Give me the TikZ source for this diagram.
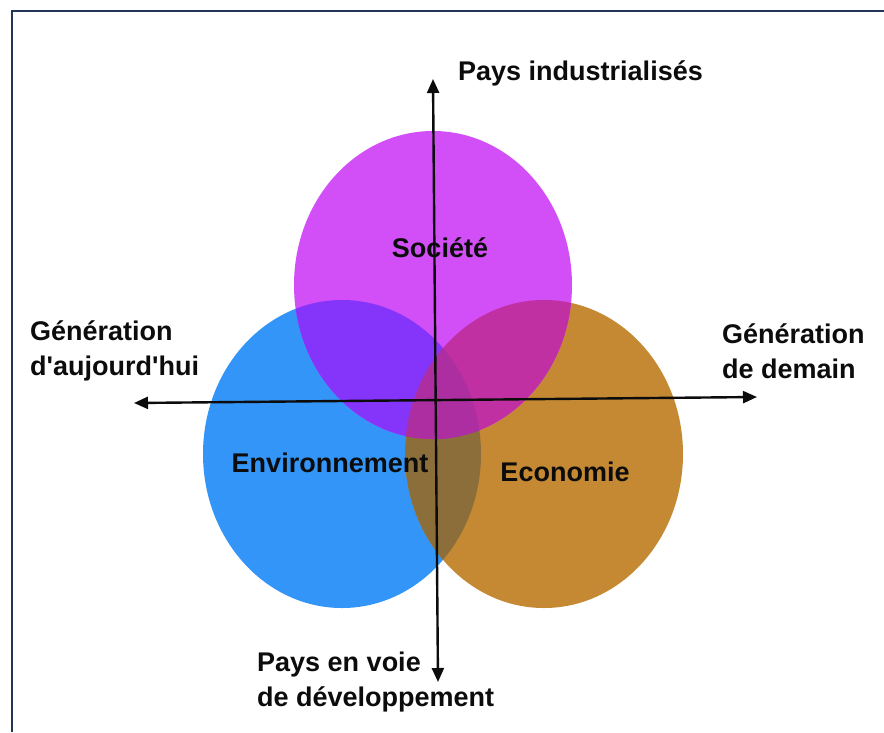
\documentclass[tikz,border=0pt]{standalone}
\usepackage{fontspec}
\setmainfont{Liberation Sans}
\usetikzlibrary{arrows.meta}
\definecolor{socC}{RGB}{210,78,247}
\definecolor{envC}{RGB}{50,149,247}
\definecolor{ecoC}{RGB}{197,137,52}
\definecolor{socenvC}{RGB}{133,52,250}
\definecolor{socecoC}{RGB}{193,48,163}
\definecolor{envecoC}{RGB}{140,110,58}
\definecolor{allC}{RGB}{172,46,160}
\definecolor{frameC}{RGB}{36,54,88}
\definecolor{txtC}{RGB}{12,12,12}
\begin{document}
\begin{tikzpicture}[x=1pt,y=-1pt,
  lbl/.style={font=\fontsize{27}{35}\selectfont\bfseries, text=txtC, inner sep=0pt, align=left},
  axis/.style={line width=2.4pt, draw=txtC, {Triangle[length=14pt,width=12pt]}-{Triangle[length=14pt,width=12pt]}},
  frameline/.style={line width=2.5pt, draw=frameC}]
\useasboundingbox (0,0) rectangle (884,732);
\fill[white] (0,0) rectangle (884,732);
\draw[frameline] (12,732) -- (12,11) -- (884,11);
\def\socpath{(433,285) ellipse [x radius=139pt, y radius=154pt]}
\def\envpath{(342,454) ellipse [x radius=139pt, y radius=154pt]}
\def\ecopath{(544,454) ellipse [x radius=139pt, y radius=154pt]}
% circles
\fill[envC] \envpath;
\fill[ecoC] \ecopath;
\fill[socC] \socpath;
\begin{scope}
  \clip \envpath;
  \fill[envecoC] \ecopath;
\end{scope}
\begin{scope}
  \clip \socpath;
  \fill[socenvC] \envpath;
  \fill[socecoC] \ecopath;
  \clip \envpath;
  \fill[allC] \ecopath;
\end{scope}
% axes
\coordinate (hL) at (134,403);
\coordinate (hR) at (757,397);
\coordinate (vT) at (433,79);
\coordinate (vB) at (438,682);
\draw[axis] (hL) -- (hR);
\draw[axis] (vT) -- (vB);
% labels
\node[lbl, anchor=west] (top) at (458,73) {Pays industrialisés};
\node[lbl, anchor=west] (left) at (30,351) {Génération\\d\textquotesingle aujourd\textquotesingle hui};
\node[lbl, anchor=west] (right) at (722,351) {Génération\\de demain};
\node[lbl, anchor=west] (bottom) at (257,682) {Pays en voie\\de développement};
\node[lbl] (soc) at (440,248) {Société};
\node[lbl] (env) at (330,463) {Environnement};
\node[lbl] (eco) at (565,472) {Economie};
\end{tikzpicture}
\end{document}
